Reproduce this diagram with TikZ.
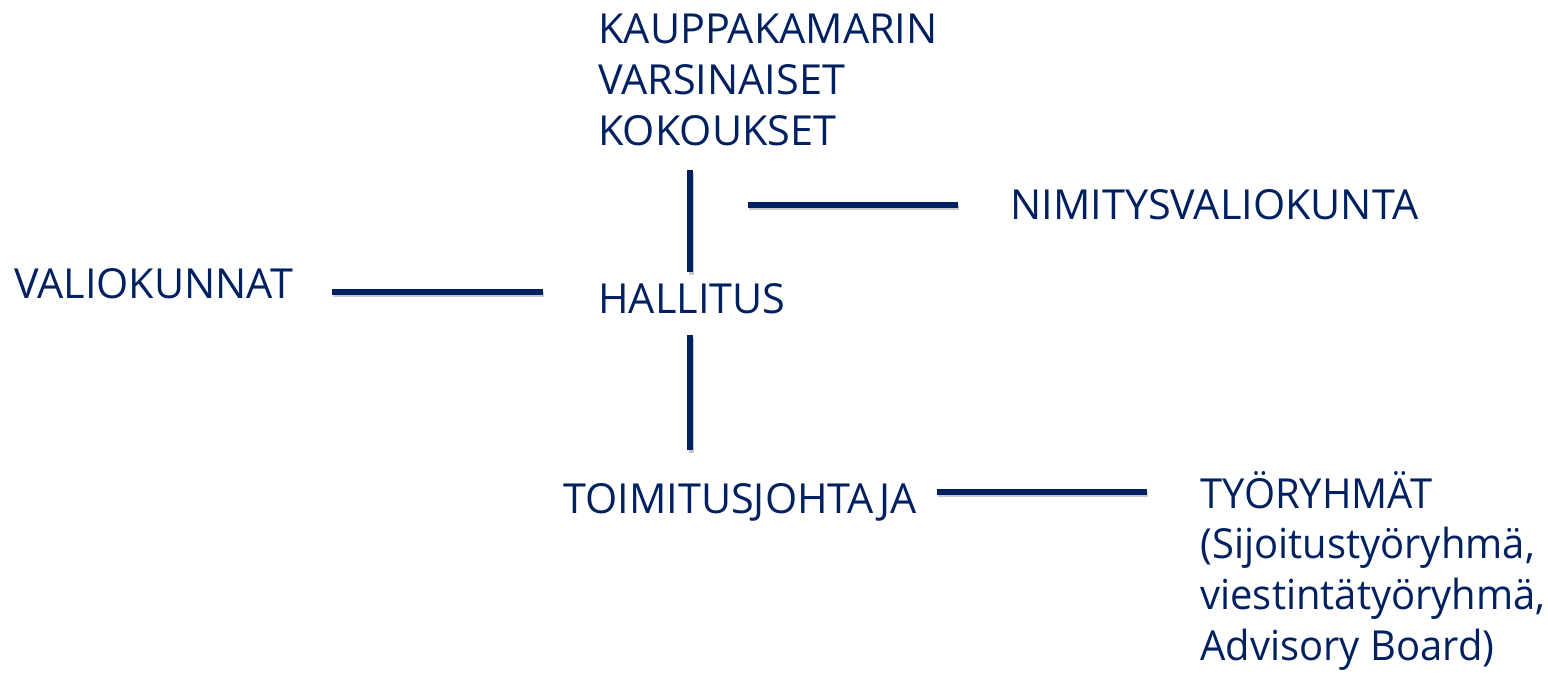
\documentclass[tikz,border=0pt]{standalone}
\usepackage{fontspec}
\setmainfont{Open Sans}
\usetikzlibrary{positioning}
\definecolor{orgnavy}{HTML}{002060}
\definecolor{orgshade}{RGB}{200,200,205}

\begin{document}
\begin{tikzpicture}[
    x=0.5pt, y=-0.5pt,
    every node/.style={
        inner sep=0pt, anchor=base west, align=left,
        text=orgnavy, font=\fontsize{20.7pt}{25.3pt}\selectfont
    },
    narrowtext/.style={
        font=\fontsize{20.7pt}{25.3pt}\selectfont\addfontfeatures{FakeStretch=0.965}
    },
    orglink/.style={
        draw=orgnavy, line width=2.6pt,
        preaction={draw=orgshade, line width=2.6pt,
            transform canvas={shift={(0.6pt,-1.4pt)}}}
    }
]
\useasboundingbox (0,0) rectangle (1548,675);

% multi-line texts sit on the baseline of their last line
\node (kokous) at (598,145) {KAUPPAKAMARIN\\VARSINAISET\\KOKOUKSET};
\node (nimitys) at (1010,219) {NIMITYSVALIOKUNTA};
\node (valiok) at (14,298) {VALIOKUNNAT};
\node (hallitus) at (598,313) {HALLITUS};
\node (toimitus) at (563,513) {TOIMITUSJOHTAJA};
\node[narrowtext] (tyoryhmat) at (1200,660) {TYÖRYHMÄT\\(Sijoitustyöryhmä,\\viestintätyöryhmä,\\Advisory Board)};

% line ends
\coordinate (kok-s) at (690,170);
\coordinate (hal-n) at (690,272);
\coordinate (hal-s) at (690,335);
\coordinate (toi-n) at (690,450);
\coordinate (nim-w) at (958,205);
\coordinate (kok-e) at (748,205);
\coordinate (val-e) at (332,292);
\coordinate (hal-w) at (543,292);
\coordinate (toi-e) at (937,492);
\coordinate (tyo-w) at (1147,492);

\draw[orglink] (kok-s) -- (hal-n);
\draw[orglink] (kok-e) -- (nim-w);
\draw[orglink] (val-e) -- (hal-w);
\draw[orglink] (hal-s) -- (toi-n);
\draw[orglink] (toi-e) -- (tyo-w);

\end{tikzpicture}
\end{document}
